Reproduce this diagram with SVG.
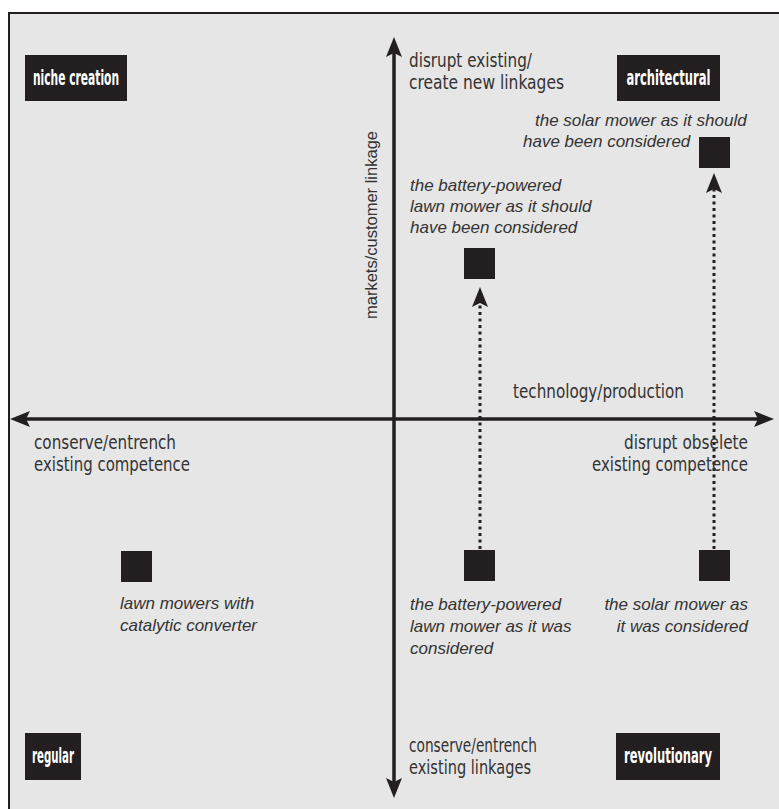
<svg xmlns="http://www.w3.org/2000/svg" width="779" height="809" viewBox="0 0 779 809">
<style>
.frame{fill:#e6e6e6;stroke:#231f20;stroke-width:2}
.qbox{fill:#231f20}
.q{font-family:"Liberation Sans Narrow","DejaVu Sans Condensed","Liberation Sans",sans-serif;font-weight:bold;font-size:21px;fill:#ffffff}
.ax{font-family:"Liberation Sans Narrow","DejaVu Sans Condensed","Liberation Sans",sans-serif;font-size:20px;fill:#333333}
.it{font-family:"Liberation Sans",Arial,sans-serif;font-style:italic;font-size:17px;fill:#333333}
.vl{font-family:"Liberation Sans",Arial,sans-serif;font-size:16.5px;fill:#333333}
.sq{fill:#231f20}
.axis{stroke:#231f20;stroke-width:3.5;fill:none}
.dot{stroke:#231f20;stroke-width:3;stroke-dasharray:3 3.5;fill:none}
</style>
<defs>
<marker id="ah" markerUnits="userSpaceOnUse" viewBox="0 0 20 16" markerWidth="20" markerHeight="16" refX="8" refY="8" orient="auto-start-reverse">
<path d="M0,0 L20,8 L0,16 L4,8 z" fill="#231f20"/>
</marker>
<marker id="dh" markerUnits="userSpaceOnUse" viewBox="0 0 20 16" markerWidth="20" markerHeight="16" refX="8" refY="8" orient="auto">
<path d="M0,0 L20,8 L0,16 L4,8 z" fill="#231f20"/>
</marker>
</defs>
<rect class="frame" x="9" y="13" width="790" height="810"/>

<g id="connectors">
<line id="h-axis" class="axis" x1="22" y1="419" x2="762" y2="419" marker-start="url(#ah)" marker-end="url(#ah)"/>
<line id="v-axis" class="axis" x1="394" y1="786" x2="394" y2="49" marker-start="url(#ah)" marker-end="url(#ah)"/>
<line id="battery-arrow" class="dot" x1="480" y1="549" x2="480" y2="299" marker-end="url(#dh)"/>
<line id="solar-arrow" class="dot" x1="714" y1="549" x2="714" y2="185" marker-end="url(#dh)"/>
</g>

<g id="axis-labels">
<text class="ax" x="409" y="67" textLength="123" lengthAdjust="spacingAndGlyphs">disrupt existing/</text>
<text class="ax" x="409" y="89" textLength="155" lengthAdjust="spacingAndGlyphs">create new linkages</text>
<text class="vl" transform="translate(377,225) rotate(-90)" text-anchor="middle">markets/customer linkage</text>
<text class="ax" x="513" y="398" textLength="171" lengthAdjust="spacingAndGlyphs">technology/production</text>
<text class="ax" x="34" y="449" textLength="142" lengthAdjust="spacingAndGlyphs">conserve/entrench</text>
<text class="ax" x="34" y="471" textLength="156" lengthAdjust="spacingAndGlyphs">existing competence</text>
<text class="ax" x="624" y="449" textLength="124" lengthAdjust="spacingAndGlyphs">disrupt obselete</text>
<text class="ax" x="592" y="471" textLength="156" lengthAdjust="spacingAndGlyphs">existing competence</text>
<text class="ax" x="409" y="752" textLength="128" lengthAdjust="spacingAndGlyphs">conserve/entrench</text>
<text class="ax" x="409" y="774" textLength="122" lengthAdjust="spacingAndGlyphs">existing linkages</text>
</g>

<g id="niche-creation">
<rect class="qbox" x="25" y="55" width="102" height="46"/>
<text class="q" x="76" y="85" text-anchor="middle" textLength="86" lengthAdjust="spacingAndGlyphs">niche creation</text>
</g>
<g id="architectural">
<rect class="qbox" x="617" y="55" width="103" height="46"/>
<text class="q" x="668.5" y="85" text-anchor="middle" textLength="84" lengthAdjust="spacingAndGlyphs">architectural</text>
</g>
<g id="regular">
<rect class="qbox" x="25" y="733" width="56" height="47"/>
<text class="q" x="53" y="763" text-anchor="middle" textLength="42" lengthAdjust="spacingAndGlyphs">regular</text>
</g>
<g id="revolutionary">
<rect class="qbox" x="616" y="733" width="104" height="47"/>
<text class="q" x="668" y="763" text-anchor="middle" textLength="88" lengthAdjust="spacingAndGlyphs">revolutionary</text>
</g>

<g id="solar-should">
<rect class="sq" x="699" y="137" width="31" height="31"/>
<text class="it" x="535" y="126">the solar mower as it should</text>
<text class="it" x="523" y="147">have been considered</text>
</g>
<g id="battery-should">
<rect class="sq" x="464" y="248" width="31" height="31"/>
<text class="it" x="410" y="191">the battery-powered</text>
<text class="it" x="410" y="212">lawn mower as it should</text>
<text class="it" x="410" y="233">have been considered</text>
</g>
<g id="catalytic">
<rect class="sq" x="121" y="551" width="31" height="31"/>
<text class="it" x="120" y="609">lawn mowers with</text>
<text class="it" x="120" y="631">catalytic converter</text>
</g>
<g id="battery-was">
<rect class="sq" x="464" y="550" width="31" height="31"/>
<text class="it" x="410" y="610">the battery-powered</text>
<text class="it" x="410" y="632">lawn mower as it was</text>
<text class="it" x="410" y="654">considered</text>
</g>
<g id="solar-was">
<rect class="sq" x="699" y="550" width="31" height="31"/>
<text class="it" x="748" y="610" text-anchor="end">the solar mower as</text>
<text class="it" x="748" y="632" text-anchor="end">it was considered</text>
</g>
</svg>
